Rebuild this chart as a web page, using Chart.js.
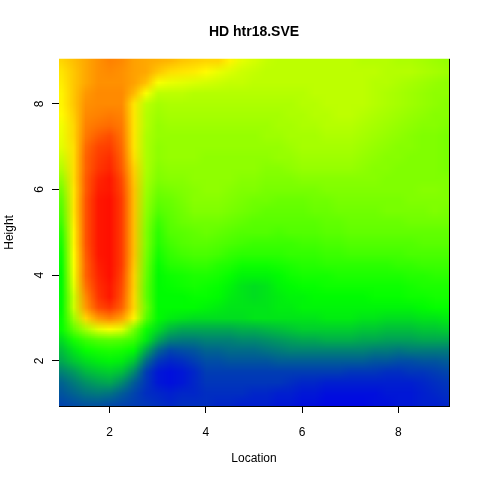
<!DOCTYPE html>
<html>
<head>
<meta charset="utf-8">
<title>HD htr18.SVE</title>
<script src="https://cdn.jsdelivr.net/npm/chart.js@4"></script>
<style>
html, body { margin: 0; padding: 0; background: #fff; }
canvas { display: block; }
</style>
</head>
<body>
<canvas id="heat" width="480" height="480"></canvas>
<script>
const locations = [1, 1.25, 1.5, 1.75, 2, 2.25, 2.5, 2.75, 3, 3.25, 3.5, 3.75, 4, 4.25, 4.5, 4.75, 5, 5.25, 5.5, 5.75, 6, 6.25, 6.5, 6.75, 7, 7.25, 7.5, 7.75, 8, 8.25, 8.5, 8.75, 9];
const heights = [9, 8.75, 8.5, 8.25, 8, 7.75, 7.5, 7.25, 7, 6.75, 6.5, 6.25, 6, 5.75, 5.5, 5.25, 5, 4.75, 4.5, 4.25, 4, 3.75, 3.5, 3.25, 3, 2.75, 2.5, 2.25, 2, 1.75, 1.5, 1.25, 1];
const xTicks = [2, 4, 6, 8];
const yTicks = [2, 4, 6, 8];

// one row per height, top of the plot first (0 = blue, 100 = red)
const heat = [
  [72,75,78,81,83,82,79,78,77,76,74,73,72,72,68,63,61,59,58,58,58,58,58,58,58,57,57,57,56,56,55,54,53],
  [70,74,78,81,82,81,79,78,74,71,70,69,67,64,62,60,59,58,58,58,58,58,58,58,58,58,58,57,57,57,56,55,54],
  [69,74,78,81,81,81,79,75,66,64,63,62,61,60,59,59,58,58,58,58,58,58,58,58,58,58,57,57,56,55,54,53,52],
  [68,74,80,82,82,82,76,66,58,58,58,57,57,57,57,57,57,57,57,57,57,58,58,58,58,58,57,56,55,54,53,52,52],
  [68,74,81,82,82,82,70,58,55,56,56,56,56,56,56,56,56,56,56,56,57,57,58,58,58,58,57,56,55,54,53,52,51],
  [67,73,82,83,84,83,70,57,54,55,55,55,55,55,55,55,55,55,55,56,56,57,57,58,58,57,56,55,54,53,52,51,51],
  [65,72,83,85,86,84,70,57,53,54,54,54,54,54,54,54,54,54,55,55,56,56,57,57,57,56,55,54,53,52,51,51,50],
  [64,72,84,88,90,85,70,56,53,53,53,53,53,53,53,53,53,54,54,55,55,55,56,56,56,55,54,53,52,51,50,50,49],
  [63,71,86,91,92,86,70,56,52,53,53,53,53,53,53,53,53,53,53,54,55,55,55,55,55,54,53,52,51,51,50,50,49],
  [60,71,87,92,94,87,71,56,52,53,53,53,52,52,52,52,52,52,53,53,54,54,54,54,54,53,52,51,51,50,50,50,49],
  [57,71,87,93,95,88,73,56,51,52,52,52,52,52,52,52,52,51,51,52,53,53,53,53,53,52,51,51,50,50,50,50,49],
  [53,71,88,95,97,90,74,55,50,51,51,52,52,52,52,51,51,50,50,50,51,51,51,51,51,51,51,50,50,50,50,50,50],
  [49,70,88,96,97,91,75,54,48,49,50,51,52,52,51,50,50,49,49,49,49,49,50,50,50,50,50,50,50,50,51,51,50],
  [46,70,89,97,98,92,75,53,46,47,49,51,51,51,50,49,48,48,47,47,47,48,48,49,49,49,49,49,49,50,50,50,50],
  [44,70,89,97,98,92,75,52,44,46,48,50,50,50,49,48,47,46,46,46,46,47,47,48,48,48,48,49,49,49,49,50,49],
  [42,69,89,97,98,92,75,51,41,45,47,48,48,48,47,46,45,45,45,45,45,45,46,46,47,47,47,47,47,48,48,48,48],
  [39,68,89,97,98,92,75,50,39,44,45,46,47,46,45,44,44,44,43,44,44,44,45,45,46,46,46,46,46,46,46,46,46],
  [37,68,89,97,98,92,75,50,38,42,44,45,45,44,43,42,41,41,41,41,42,42,43,43,44,44,44,44,44,44,45,45,45],
  [35,67,88,97,98,92,75,49,36,40,42,43,43,42,40,39,39,39,39,40,40,40,41,41,42,42,42,42,42,43,43,43,43],
  [34,66,87,96,98,92,74,48,34,38,39,40,40,38,37,35,35,35,36,37,38,38,39,39,39,39,39,39,40,40,41,41,41],
  [33,65,87,95,98,91,73,47,33,35,36,37,37,36,34,32,32,32,33,35,36,36,36,37,37,37,37,37,37,38,38,39,39],
  [33,63,85,94,97,90,73,46,33,34,35,36,35,34,32,30,29,30,32,33,34,34,35,35,35,35,35,35,35,36,37,37,37],
  [33,60,82,93,97,89,72,46,33,33,33,34,34,33,31,30,29,30,31,32,32,33,33,33,33,33,34,34,34,35,35,36,36],
  [33,60,80,90,93,87,72,48,33,33,33,33,32,31,30,30,30,30,31,31,32,32,32,32,32,32,32,32,32,32,33,34,34],
  [34,54,72,80,83,79,68,45,33,31,30,29,29,29,29,29,30,30,30,30,30,30,31,31,31,30,30,29,29,29,30,30,31],
  [34,46,55,63,66,63,49,35,29,24,22,22,22,22,22,23,23,24,25,26,27,27,27,27,27,26,26,25,25,25,26,26,27],
  [29,36,41,44,45,44,41,31,22,17,16,16,17,17,17,18,18,19,20,21,22,22,23,23,23,22,22,21,21,21,22,22,22],
  [25,30,34,36,37,36,33,22,13,9,10,11,13,13,14,14,14,15,16,17,17,17,17,17,17,17,16,16,15,16,16,16,16],
  [22,26,29,31,32,31,26,14,7,5,6,8,10,10,11,11,11,11,12,12,12,12,12,12,12,12,11,11,10,10,11,11,12],
  [17,20,24,26,27,25,18,8,3,2,3,5,8,8,8,8,8,8,8,8,8,8,8,8,7,7,7,6,6,7,7,8,9],
  [13,16,19,21,22,18,12,7,3,2,3,5,7,7,7,7,7,7,7,6,5,5,4,4,4,4,4,4,4,4,5,6,7],
  [11,13,15,16,15,12,9,6,5,4,5,5,6,6,6,6,5,5,4,4,3,3,2,2,2,2,2,3,3,3,4,5,6],
  [9,10,11,11,10,9,8,7,6,5,6,6,6,5,5,4,4,4,3,3,2,2,1,1,1,1,2,2,3,3,4,4,5]
];

const rampStops = [[0, 0, 235], [0, 255, 0], [255, 255, 0], [255, 0, 0]];

function rampColor(v) {
  const t = Math.min(Math.max(v, 0), 100) / 100 * (rampStops.length - 1);
  const i = Math.min(Math.floor(t), rampStops.length - 2);
  const f = t - i;
  return rampStops[i].map((c, k) => Math.round(c + (rampStops[i + 1][k] - c) * f));
}

const cells = [];
heights.forEach((y, r) => locations.forEach((x, c) => cells.push({ x: x, y: y, v: heat[r][c] })));

// paints the cells as one image placed by the chart's scales, browser smoothing blends the edges
const heatLayer = {
  id: 'heatLayer',
  beforeDatasetsDraw(chart) {
    const { ctx, chartArea: a, scales: { x, y } } = chart;
    const off = document.createElement('canvas');
    off.width = locations.length;
    off.height = heights.length;
    const octx = off.getContext('2d');
    const img = octx.createImageData(off.width, off.height);
    chart.data.datasets[0].data.forEach((p, i) => {
      const [r, g, b] = rampColor(p.v);
      img.data.set([r, g, b, 255], i * 4);
    });
    octx.putImageData(img, 0, 0);
    const half = (locations[1] - locations[0]) / 2;
    const x0 = x.getPixelForValue(locations[0] - half);
    const x1 = x.getPixelForValue(locations[locations.length - 1] + half);
    const y0 = y.getPixelForValue(heights[0] + half);
    const y1 = y.getPixelForValue(heights[heights.length - 1] - half);
    ctx.save();
    ctx.beginPath();
    ctx.rect(a.left, a.top, a.right - a.left, a.bottom - a.top);
    ctx.clip();
    ctx.imageSmoothingEnabled = true;
    ctx.drawImage(off, x0, y0, x1 - x0, y1 - y0);
    ctx.restore();
  },
  afterDraw(chart) {
    const { ctx, chartArea: a } = chart;
    ctx.save();
    ctx.strokeStyle = '#000';
    ctx.lineWidth = 1;
    ctx.beginPath();
    ctx.moveTo(a.right + 0.5, a.top);
    ctx.lineTo(a.right + 0.5, a.bottom + 1);
    ctx.stroke();
    ctx.restore();
  }
};

const fontName = '"Liberation Sans", Arial, sans-serif';

new Chart(document.getElementById('heat'), {
  type: 'scatter',
  data: {
    datasets: [{ label: 'HD', data: cells, pointRadius: 0, pointHoverRadius: 0 }]
  },
  options: {
    responsive: false,
    animation: false,
    layout: { padding: { right: 31 } },
    plugins: {
      legend: { display: false },
      tooltip: { enabled: false },
      title: {
        display: true,
        text: 'HD htr18.SVE',
        color: '#000',
        fullSize: false,
        font: { family: fontName, size: 14, weight: 'bold' },
        padding: { top: 24, bottom: 18 }
      }
    },
    scales: {
      x: {
        type: 'linear',
        min: 0.95,
        max: 9.05,
        afterFit(scale) { scale.height = 74; },
        afterBuildTicks(scale) { scale.ticks = xTicks.map(v => ({ value: v })); },
        grid: { drawOnChartArea: false, drawTicks: true, tickLength: 7, color: '#000' },
        border: { display: true, color: '#000', width: 1 },
        ticks: { color: '#000', padding: 12, maxRotation: 0, font: { family: fontName, size: 12 } },
        title: { display: true, text: 'Location', color: '#000', font: { family: fontName, size: 12 }, padding: { top: 0, bottom: 14 } }
      },
      y: {
        type: 'linear',
        min: 0.95,
        max: 9.05,
        afterFit(scale) { scale.width = 59; },
        afterBuildTicks(scale) { scale.ticks = yTicks.map(v => ({ value: v })); },
        grid: { drawOnChartArea: false, drawTicks: true, tickLength: 7, color: '#000' },
        border: { display: false },
        ticks: { color: '#000', padding: 9, minRotation: 90, maxRotation: 90, crossAlign: 'center', font: { family: fontName, size: 12 } },
        title: { display: true, text: 'Height', color: '#000', font: { family: fontName, size: 12 }, padding: { top: 2, bottom: 0 } }
      }
    }
  },
  plugins: [heatLayer]
});
</script>
</body>
</html>
